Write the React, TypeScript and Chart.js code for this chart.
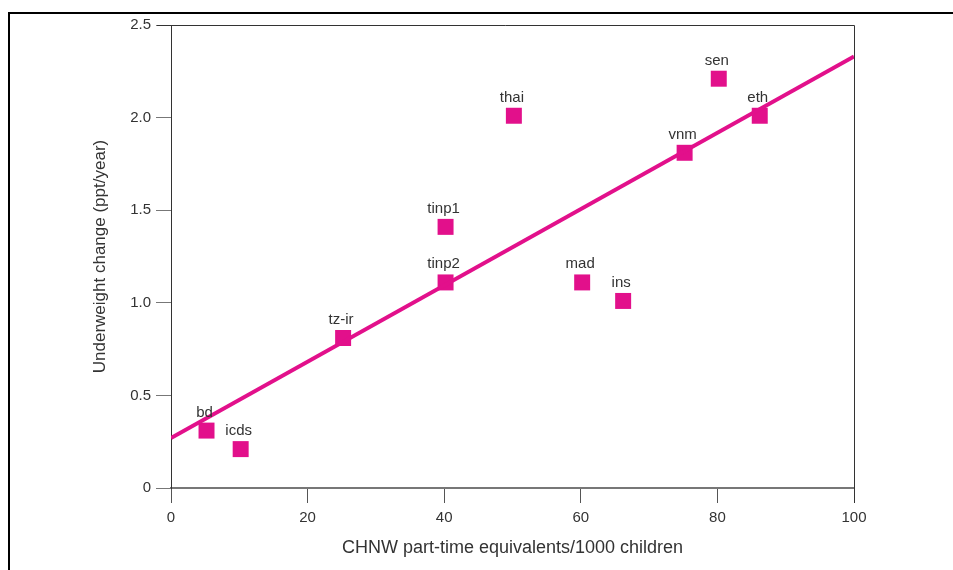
import React, { useEffect, useRef } from "react";
import { Chart, registerables } from "chart.js";

Chart.register(...registerables);

const labels = ["bd", "icds", "tz-ir", "tinp1", "tinp2", "thai", "mad", "ins", "vnm", "sen", "eth"];
const xValues = [5.2, 10.2, 25.2, 40.2, 40.2, 50.2, 60.2, 66.2, 75.2, 80.2, 86.2];
const yValues = [0.31, 0.21, 0.81, 1.41, 1.11, 2.01, 1.11, 1.01, 1.81, 2.21, 2.01];
const fitX = [0, 100];
const fitY = [0.27, 2.33];
const xTicks = [0, 20, 40, 60, 80, 100];
const yTicks = [0, 0.5, 1.0, 1.5, 2.0, 2.5];

const MAGENTA = "#E2108B";
const TEXT = "#333333";
const FONT = "'Liberation Sans', Arial, sans-serif";

const labelPlugin = {
  id: "pointLabels",
  afterDatasetsDraw(chart: any) {
    const ctx = chart.ctx;
    const xs = chart.scales.x;
    const ys = chart.scales.y;
    ctx.save();
    ctx.fillStyle = TEXT;
    ctx.font = `15px ${FONT}`;
    ctx.textAlign = "center";
    ctx.textBaseline = "alphabetic";
    labels.forEach((l, i) => {
      const px = xs.getPixelForValue(xValues[i]);
      const py = ys.getPixelForValue(yValues[i]);
      ctx.fillText(l, px - 2, py - 14);
    });
    ctx.restore();
  },
  beforeDraw(chart: any) {
    const ctx = chart.ctx;
    ctx.save();
    ctx.strokeStyle = "#000";
    ctx.lineWidth = 2;
    ctx.beginPath();
    ctx.moveTo(9, 575);
    ctx.lineTo(9, 13);
    ctx.lineTo(960, 13);
    ctx.stroke();
    ctx.restore();
  },
  afterDraw(chart: any) {
    const { ctx, chartArea } = chart;
    ctx.save();
    ctx.strokeStyle = "#333";
    ctx.lineWidth = 1;
    ctx.beginPath();
    ctx.moveTo(chartArea.left - 14, chartArea.top + 0.5);
    ctx.lineTo(chartArea.right + 0.5, chartArea.top + 0.5);
    ctx.lineTo(chartArea.right + 0.5, chartArea.bottom + 15);
    ctx.stroke();
    ctx.restore();
  },
};

export default function App() {
  const ref = useRef<HTMLCanvasElement>(null);
  useEffect(() => {
    document.body.style.margin = "0";
    const chart = new Chart(ref.current!, {
      type: "scatter",
      data: {
        datasets: [
          {
            type: "line",
            data: fitX.map((x, i) => ({ x, y: fitY[i] })),
            borderColor: MAGENTA,
            borderWidth: 4,
            pointRadius: 0,
            fill: false,
          } as any,
          {
            data: xValues.map((x, i) => ({ x, y: yValues[i] })),
            pointStyle: "rect",
            pointRadius: 11.3,
            backgroundColor: MAGENTA,
            borderColor: MAGENTA,
            borderWidth: 0,
          },
        ],
      },
      plugins: [labelPlugin],
      options: {
        animation: false,
        responsive: false,
        layout: { padding: { left: 0, right: 99, top: 25, bottom: 0 } },
        plugins: { legend: { display: false }, tooltip: { enabled: false } },
        scales: {
          x: {
            type: "linear",
            min: 0,
            max: 100,
            afterBuildTicks: (s: any) => {
              s.ticks = xTicks.map((v) => ({ value: v }));
            },
            afterFit: (s: any) => {
              s.height = 82;
            },
            grid: { drawOnChartArea: false, drawTicks: true, tickLength: 15, color: "#555" },
            border: { color: "#777", width: 2 },
            ticks: { color: TEXT, font: { size: 15, family: FONT }, padding: 6 },
            title: {
              display: true,
              text: "CHNW part-time equivalents/1000 children",
              color: TEXT,
              font: { size: 18, family: FONT },
              padding: { top: 0, bottom: 11 },
            },
          },
          y: {
            type: "linear",
            min: 0,
            max: 2.5,
            afterBuildTicks: (s: any) => {
              s.ticks = yTicks.map((v) => ({ value: v }));
            },
            afterFit: (s: any) => {
              s.width = 171;
            },
            grid: { drawOnChartArea: false, drawTicks: true, tickLength: 15, color: "#777" },
            border: { color: "#333", width: 1 },
            ticks: {
              color: TEXT,
              font: { size: 15, family: FONT },
              padding: 5,
              callback: (v: any) => (v === 0 ? "0" : Number(v).toFixed(1)),
            },
            title: {
              display: true,
              text: "Underweight change (ppt/year)",
              color: TEXT,
              font: { size: 17, family: FONT },
              padding: { top: 90, bottom: 0 },
            },
          },
        },
      },
    });
    return () => chart.destroy();
  }, []);
  return <canvas ref={ref} width={953} height={570} style={{ display: "block" }} />;
}
